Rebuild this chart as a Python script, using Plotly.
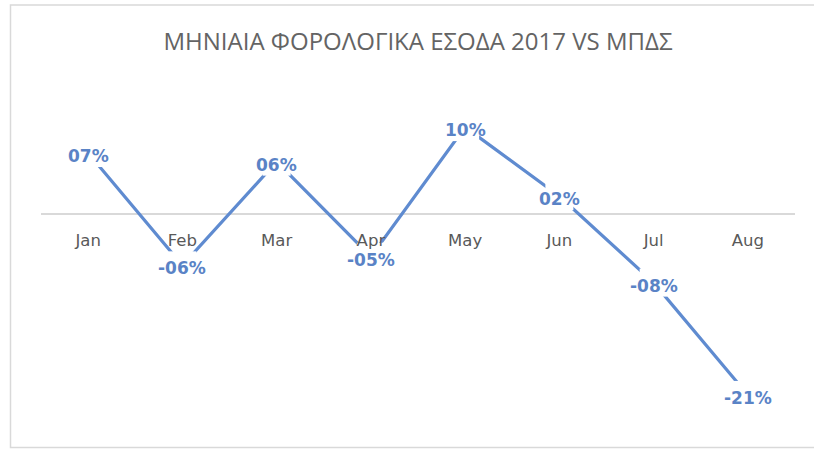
import plotly.graph_objects as go

# Monthly tax revenue 2017 vs budget (MTFS), percent deviation per month
months = ["Jan", "Feb", "Mar", "Apr", "May", "Jun", "Jul", "Aug"]
deviation_pct = [7, -6, 6, -5, 10, 2, -8, -21]

title_text = "ΜΗΝΙΑΙΑ ΦΟΡΟΛΟΓΙΚΑ ΕΣΟΔΑ 2017 VS ΜΠΔΣ"

W, H = 814, 451
M_L, M_R, M_T, M_B = 41, 19, 75, 31
Y_RANGE = [-23.9, 16.03]

LINE_BLUE = "#5F8BD0"
LABEL_BLUE = "#5A83C6"
GREY_TEXT = "#595959"
FRAME = "#D9D9D9"

plot_w = W - M_L - M_R
plot_h = H - M_T - M_B


def px_to_paper_x(px):
    return (px - M_L) / plot_w


def px_to_paper_y(py):
    return (H - M_B - py) / plot_h


def pct_label(v):
    return ("-" if v < 0 else "") + f"{abs(v):02d}%"


fig = go.Figure()
fig.add_trace(
    go.Scatter(
        x=months,
        y=deviation_pct,
        mode="lines",
        line=dict(color=LINE_BLUE, width=3.2),
        hoverinfo="skip",
        showlegend=False,
    )
)

# white squares at each point break the line where the value label sits
fig.add_trace(
    go.Scatter(
        x=months,
        y=deviation_pct,
        mode="markers",
        marker=dict(symbol="square", size=28, color="white", line=dict(width=0)),
        hoverinfo="skip",
        showlegend=False,
        cliponaxis=False,
    )
)

# value labels centred on each point
for m, v in zip(months, deviation_pct):
    fig.add_annotation(
        x=m,
        y=v,
        xref="x",
        yref="y",
        text=pct_label(v),
        showarrow=False,
        xanchor="center",
        yanchor="middle",
        yshift=-3,
        font=dict(family="DejaVu Sans", size=17, color=LABEL_BLUE, weight="bold"),
    )

# x axis sits on the zero line
zero_pos = (0 - Y_RANGE[0]) / (Y_RANGE[1] - Y_RANGE[0])

fig.update_layout(
    width=W,
    height=H,
    margin=dict(l=M_L, r=M_R, t=M_T, b=M_B),
    paper_bgcolor="white",
    plot_bgcolor="white",
    title=dict(
        text=title_text,
        x=0.5,
        xref="paper",
        xanchor="center",
        y=1 - 42 / H,
        yref="container",
        yanchor="middle",
        font=dict(family="Open Sans", size=24, color="#646464"),
    ),
    xaxis=dict(
        type="category",
        range=[-0.5, len(months) - 0.5],
        anchor="free",
        position=zero_pos,
        showgrid=False,
        showline=False,
        zeroline=False,
        ticks="",
        ticklabelstandoff=15,
        layer="above traces",
        tickfont=dict(family="DejaVu Sans", size=16.5, color=GREY_TEXT),
    ),
    yaxis=dict(
        range=Y_RANGE,
        showgrid=False,
        showticklabels=False,
        showline=False,
        ticks="",
        zeroline=True,
        zerolinecolor=FRAME,
        zerolinewidth=1.5,
    ),
    shapes=[
        dict(
            type="rect",
            xref="paper",
            yref="paper",
            x0=px_to_paper_x(10.5),
            x1=px_to_paper_x(830),
            y0=px_to_paper_y(447.5),
            y1=px_to_paper_y(5),
            line=dict(color=FRAME, width=1.5),
            fillcolor="rgba(0,0,0,0)",
            layer="below",
        )
    ],
)

fig.write_html("out.html")
